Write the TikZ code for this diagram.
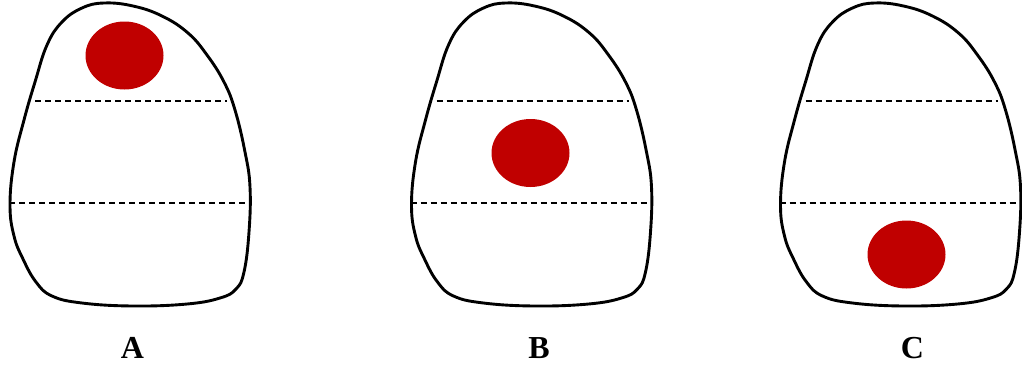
\documentclass[tikz,border=0pt]{standalone}
\usepackage{fontspec}
\setmainfont{Liberation Serif}
\definecolor{spot}{HTML}{C00000}
\tikzset{
  outline/.style={line width=2.9pt, black, line join=round},
  divider/.style={line width=1.2pt, black, dash pattern=on 6pt off 4pt},
  spotfill/.style={fill=spot, draw=none},
  lbl/.style={font=\fontsize{32}{36}\selectfont\bfseries, inner sep=0pt},
  toothpic/.pic={
    \draw[outline] plot[smooth cycle, tension=0.7] coordinates {
      (104,3) (133,6) (162,16) (188,33) (207,55) (224,82) (235,110)
      (245,152) (250,187) (249,232) (244,272) (236,289) (220,298)
      (187,304) (133,306) (82,303) (52,296) (36,282) (23,259)
      (14,236) (10,205) (14,162)
      (24,120) (35,82) (47,45) (62,22) (82,8)};
    \draw[divider] (35,101) -- (227,101);
    \draw[divider] (9,203) -- (248,203);
  }
}
\begin{document}
\begin{tikzpicture}[x=1pt, y=-1pt]
  \useasboundingbox (0,0) rectangle (1022,368);
  \pic at (0,0) {toothpic};
  \pic at (401.5,0) {toothpic};
  \pic at (770.5,0) {toothpic};
  \fill[spotfill] (124.5,55.5) ellipse [x radius=39, y radius=34];
  \fill[spotfill] (530.5,153) ellipse [x radius=39, y radius=34];
  \fill[spotfill] (906.5,254.5) ellipse [x radius=39, y radius=34];
  \node[lbl] (labA) at (132.5,348) {A};
  \node[lbl] (labB) at (539,348) {B};
  \node[lbl] (labC) at (912.5,348) {C};
\end{tikzpicture}
\end{document}
